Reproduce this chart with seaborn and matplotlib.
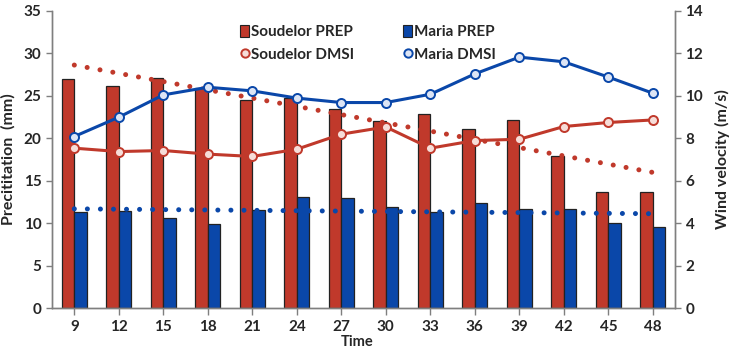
import numpy as np
import pandas as pd
import matplotlib
matplotlib.use("Agg")
import matplotlib.pyplot as plt
import seaborn as sns
from matplotlib.patches import Patch
from matplotlib.lines import Line2D

# Dados
time = [9, 12, 15, 18, 21, 24, 27, 30, 33, 36, 39, 42, 45, 48]
soudelor_prep = [27.0, 26.1, 27.1, 25.9, 24.5, 24.7, 23.4, 22.0, 22.9, 21.1, 22.1, 17.9, 13.7, 13.7]
maria_prep = [11.35, 11.47, 10.57, 9.94, 11.59, 13.1, 13.0, 11.94, 11.28, 12.34, 11.67, 11.7, 10.05, 9.5]
soudelor_dmsi = [7.53, 7.37, 7.42, 7.25, 7.14, 7.48, 8.19, 8.53, 7.53, 7.89, 7.95, 8.55, 8.74, 8.86]
maria_dmsi = [8.08, 8.99, 10.04, 10.4, 10.23, 9.89, 9.68, 9.68, 10.07, 11.03, 11.82, 11.6, 10.88, 10.12]

red = "#C0392B"
blue = "#0A47A9"

sns.set_style("white")
plt.rcParams["font.family"] = ["Lato", "DejaVu Sans"]
plt.rcParams["font.weight"] = "bold"

df = pd.DataFrame({
    "Time": [str(t) for t in time] * 2,
    "PREP": soudelor_prep + maria_prep,
    "Serie": ["Soudelor PREP"] * len(time) + ["Maria PREP"] * len(time),
})

fig = plt.figure(figsize=(7.33, 3.5), dpi=100)
ax = fig.add_axes([0.071, 0.12, 0.85, 0.849])

sns.barplot(data=df, x="Time", y="PREP", hue="Serie", palette=[red, blue],
            width=0.56, gap=0, edgecolor="#222222", linewidth=0.9,
            saturation=1, legend=False, ax=ax)

# Linhas de tendência da precipitação
pos = np.arange(len(time))
sns.regplot(x=pos, y=np.array(soudelor_prep), scatter=False, ci=None, ax=ax,
            line_kws=dict(color=red, linestyle=(0, (0.01, 2.6)), linewidth=3.6,
                          dash_capstyle="round", solid_capstyle="round"))
sns.regplot(x=pos, y=np.array(maria_prep), scatter=False, ci=None, ax=ax,
            line_kws=dict(color=blue, linestyle=(0, (0.01, 2.6)), linewidth=3.6,
                          dash_capstyle="round", solid_capstyle="round"))

ax.set_xlim(-0.5, len(time) - 0.5)
ax.set_ylim(0, 35)
ax.set_yticks(range(0, 36, 5))
ax.set_xticks(pos)
ax.set_xticklabels([str(t) for t in time])

ax2 = ax.twinx()
sns.pointplot(x=pos, y=soudelor_dmsi, native_scale=True, color=red, ax=ax2,
              markers="o", markersize=6.5, markerfacecolor="#f6ddd8",
              markeredgewidth=1.4, linewidth=2.2)
sns.pointplot(x=pos, y=maria_dmsi, native_scale=True, color=blue, ax=ax2,
              markers="o", markersize=6.5, markerfacecolor="#dde5f5",
              markeredgewidth=1.4, linewidth=2.2)
ax2.set_ylim(0, 14)
ax2.set_yticks(range(0, 15, 2))
ax2.set_xlim(-0.5, len(time) - 0.5)

for a in (ax, ax2):
    for s in a.spines.values():
        s.set_color("#7f7f7f")
        s.set_linewidth(1.0)
    a.spines["top"].set_visible(False)
    a.tick_params(length=4, width=1, color="#7f7f7f", labelsize=11)
    for lab in a.get_xticklabels() + a.get_yticklabels():
        lab.set_fontweight("bold")

ax.tick_params(axis="x", direction="out", bottom=True, length=5)
ax.tick_params(axis="y", direction="out", left=True)
ax2.tick_params(axis="y", direction="out", right=True)

ax.set_xlabel("Time", fontsize=10.5, fontweight="bold")
ax.set_ylabel("Precititation  (mm)", fontsize=11.5, fontweight="bold", labelpad=6)
ax2.set_ylabel("Wind velocity (m/s)", fontsize=11.5, fontweight="bold", labelpad=8)
ax.xaxis.set_label_coords(0.49, -0.09)

handles = [
    Patch(facecolor=red, edgecolor="#222222", linewidth=0.8),
    Line2D([], [], color=red, marker="o", markersize=6, linestyle="none",
           markerfacecolor="#f6ddd8", markeredgewidth=1.4),
    Patch(facecolor=blue, edgecolor="#222222", linewidth=0.8),
    Line2D([], [], color=blue, marker="o", markersize=6, linestyle="none",
           markerfacecolor="#dde5f5", markeredgewidth=1.4),
]
labels = ["Soudelor PREP", "Soudelor DMSI", "Maria PREP", "Maria DMSI"]
leg = ax2.legend(handles, labels, ncol=2, loc="upper left",
                 bbox_to_anchor=(0.28, 1.0), frameon=False, fontsize=11,
                 handlelength=0.6, handletextpad=0.1, columnspacing=3.2,
                 labelspacing=0.55, handleheight=0.9)
for t in leg.get_texts():
    t.set_fontweight("bold")

fig.savefig("out.png", dpi=100)
